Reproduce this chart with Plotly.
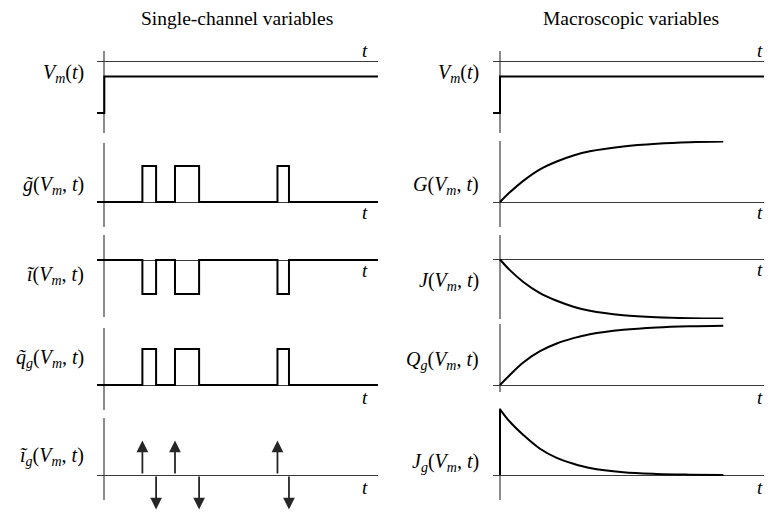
import plotly.graph_objects as go

W, H = 772, 512          # browser window
OFF = 8                  # default body margin of the html page
FW, FH = W - OFF, H - OFF  # figure size so that the page fits the window

# ---------------- data ----------------
titles = ["Single-channel variables", "Macroscopic variables"]

t_start, t_end = -0.27, 10.0          # time span of the traces (arbitrary units)
t_on = [1.39, 2.58, 6.32]             # channel opening times
t_off = [1.89, 3.46, 6.74]            # channel closing times
Vm_hold, Vm_step = -1.0, -0.3         # membrane potential before / after the step
g_open = 1.0                          # single-channel conductance when open
i_open = -1.0                         # single-channel current when open
q_moved = 1.0                         # gating charge when moved
ig_on, ig_off = 1.0, -1.0             # gating current impulses

t_macro = [0, 0.36, 0.85, 1.46, 2.07, 2.68, 3.28, 4.5, 5.72, 6.93, 8.15]
G_vals = [0, 0.16, 0.35, 0.54, 0.67, 0.77, 0.84, 0.92, 0.965, 0.99, 1.0]
J_vals = [0, -0.18, -0.38, -0.57, -0.70, -0.80, -0.87, -0.945, -0.98, -0.995, -1.0]
Q_vals = [0, 0.17, 0.38, 0.57, 0.70, 0.79, 0.855, 0.93, 0.97, 0.99, 1.0]
Jg_vals = [1.0, 0.81, 0.61, 0.40, 0.26, 0.17, 0.105, 0.04, 0.015, 0.005, 0.0]

t_label_pos = 9.5

left_labels = ["<i>V<sub>m</sub></i>(<i>t</i>)",
               "<i>g\u0303</i>(<i>V<sub>m</sub></i>, <i>t</i>)",
               "<i>\u0129</i>(<i>V<sub>m</sub></i>, <i>t</i>)",
               "<i>q\u0303<sub>g</sub></i>(<i>V<sub>m</sub></i>, <i>t</i>)",
               "<i>\u0129<sub>g</sub></i>(<i>V<sub>m</sub></i>, <i>t</i>)"]
right_labels = ["<i>V<sub>m</sub></i>(<i>t</i>)",
                "<i>G</i>(<i>V<sub>m</sub></i>, <i>t</i>)",
                "<i>J</i>(<i>V<sub>m</sub></i>, <i>t</i>)",
                "<i>Q<sub>g</sub></i>(<i>V<sub>m</sub></i>, <i>t</i>)",
                "<i>J<sub>g</sub></i>(<i>V<sub>m</sub></i>, <i>t</i>)"]

# ---------------- layout geometry (window pixels) ----------------
FONT = "Liberation Serif"
T_SCALE = 27.4
cols = {"L": dict(d0=97, d1=378, org=104.3, lab=86),
        "R": dict(d0=493, d1=772, org=500.0, lab=481)}
# col, top, bottom, axis y, px per unit, label y, t-label shift
panels = [
    ("L", 51, 133, 61, 52.0, 74, 11),
    ("L", 143, 227, 202, 36.0, 185, -11),
    ("L", 235, 317, 260, 34.0, 275, -10),
    ("L", 328, 410, 385, 36.0, 358, -12),
    ("L", 418, 500, 475, 34.5, 456, -12),
    ("R", 51, 133, 61, 52.0, 74, 11),
    ("R", 141, 227, 202, 60.4, 185, -11),
    ("R", 235, 319, 259.5, 59.0, 281, -10),
    ("R", 324, 392, 385, 59.3, 360, -12),
    ("R", 408, 500, 475, 65.7, 462, -12),
]
labels = left_labels + right_labels


def fx(p):
    return (p - OFF) / FW


def fy(p):
    return 1 - (p - OFF) / FH


def step_trace(level):
    xs, ys = [t_start], [0]
    for a, b in zip(t_on, t_off):
        xs += [a, a, b, b]
        ys += [0, level, level, 0]
    xs.append(t_end)
    ys.append(0)
    return xs, ys


fig = go.Figure()
line_style = dict(color="black", width=2)
annotations = []
arrow_style = dict(text="", showarrow=True, arrowhead=2, arrowsize=1.3,
                   arrowwidth=1.8, arrowcolor="#262626")

for k, (c, top, bot, ax0, S, laby, tshift) in enumerate(panels):
    n = k + 1
    cc = cols[c]
    xk = "xaxis" if n == 1 else f"xaxis{n}"
    yk = "yaxis" if n == 1 else f"yaxis{n}"
    xr = "x" if n == 1 else f"x{n}"
    yr = "y" if n == 1 else f"y{n}"
    fig.layout[xk] = dict(domain=[max(fx(cc["d0"]), 0), min(fx(cc["d1"]), 1)],
                          range=[-(cc["org"] - cc["d0"]) / T_SCALE, (cc["d1"] - cc["org"]) / T_SCALE],
                          anchor=yr, showgrid=False, showticklabels=False, ticks="",
                          showline=False, zeroline=True, zerolinecolor="#8c8c8c", zerolinewidth=2)
    fig.layout[yk] = dict(domain=[fy(bot), fy(top)],
                          range=[-(bot - ax0) / S, (ax0 - top) / S],
                          anchor=xr, showgrid=False, showticklabels=False, ticks="",
                          showline=False, zeroline=True, zerolinecolor="#3a3a3a", zerolinewidth=1.2)

    kind = k % 5
    if kind == 0:
        fig.add_trace(go.Scatter(x=[t_start, 0, 0, t_end], y=[Vm_hold, Vm_hold, Vm_step, Vm_step],
                                 mode="lines", line=line_style, xaxis=xr, yaxis=yr))
    elif c == "L":
        if kind in (1, 2, 3):
            level = {1: g_open, 2: i_open, 3: q_moved}[kind]
            xs, ys = step_trace(level)
            fig.add_trace(go.Scatter(x=xs, y=ys, mode="lines", line=line_style, xaxis=xr, yaxis=yr))
        else:
            for tt in t_on:
                annotations.append(dict(x=tt, y=ig_on, ax=tt, ay=0, xref=xr, yref=yr,
                                        axref=xr, ayref=yr, **arrow_style))
            for tt in t_off:
                annotations.append(dict(x=tt, y=ig_off, ax=tt, ay=0, xref=xr, yref=yr,
                                        axref=xr, ayref=yr, **arrow_style))
    else:
        yv = {1: G_vals, 2: J_vals, 3: Q_vals, 4: Jg_vals}[kind]
        if kind == 4:
            fig.add_trace(go.Scatter(x=[t_macro[0], t_macro[0]], y=[0, Jg_vals[0]], mode="lines",
                                     line=line_style, xaxis=xr, yaxis=yr))
        fig.add_trace(go.Scatter(x=t_macro, y=yv, mode="lines",
                                 line=dict(color="black", width=2, shape="spline", smoothing=1.0),
                                 xaxis=xr, yaxis=yr))

    # "t" axis label
    annotations.append(dict(x=t_label_pos, y=0, xref=xr, yref=yr, text="<i>t</i>", showarrow=False,
                            yshift=tshift, font=dict(family=FONT, size=19, color="black")))
    # y label
    annotations.append(dict(x=fx(cc["lab"]), y=fy(laby), xref="paper", yref="paper", text=labels[k],
                            xanchor="right", yanchor="middle", showarrow=False,
                            font=dict(family=FONT, size=20, color="black")))

for title, cx in zip(titles, [236.5, 630.5]):
    annotations.append(dict(x=fx(cx), y=fy(18), xref="paper", yref="paper", text=title,
                            showarrow=False, xanchor="center", yanchor="middle",
                            font=dict(family=FONT, size=19.5, color="black")))

fig.update_layout(width=FW, height=FH, margin=dict(l=0, r=0, t=0, b=0),
                  paper_bgcolor="white", plot_bgcolor="white", showlegend=False,
                  annotations=annotations)

fig.write_html("out.html")
